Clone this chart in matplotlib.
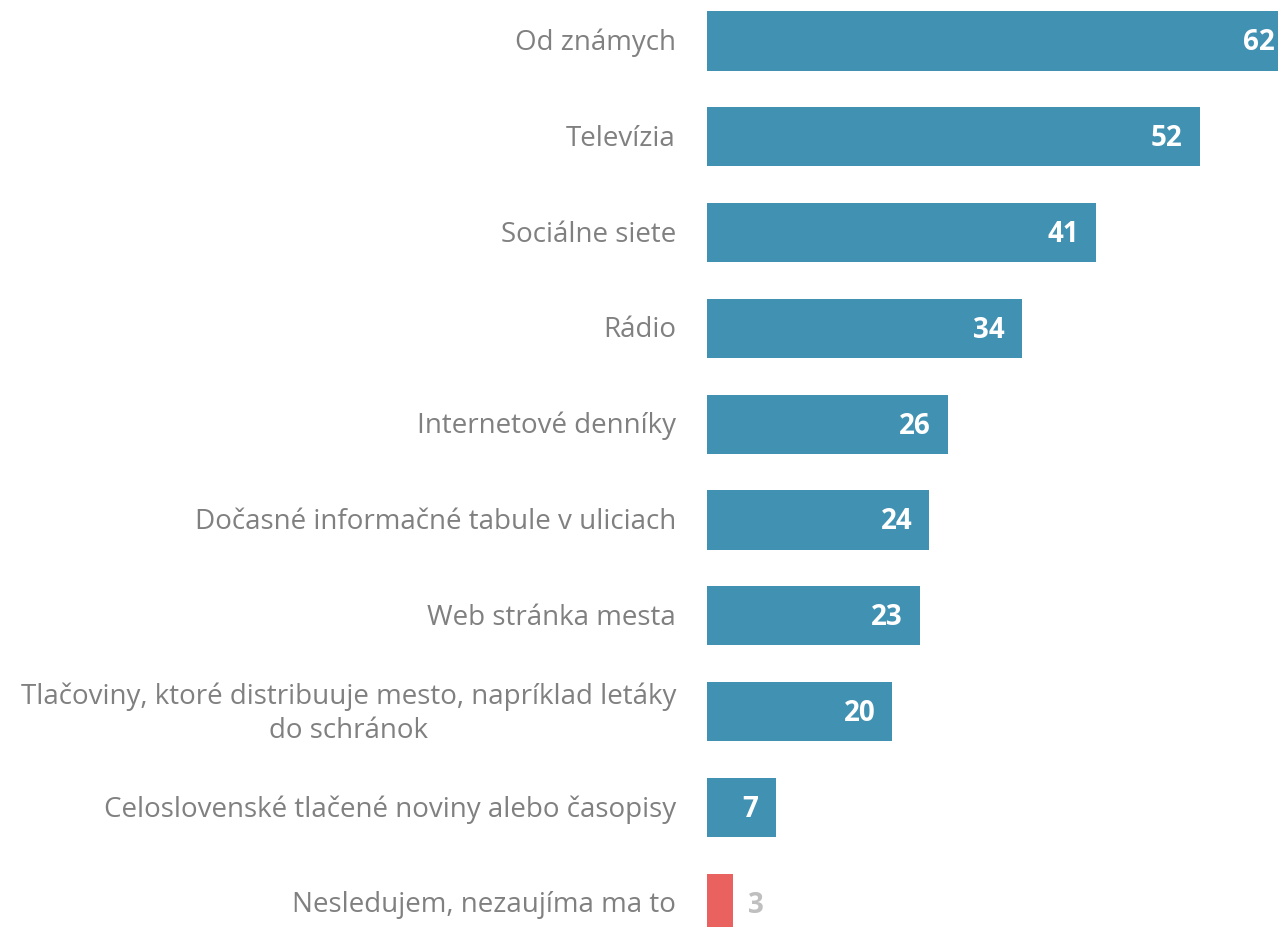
import numpy as np
import matplotlib
matplotlib.use("Agg")
import matplotlib.pyplot as plt

# Data (bar lengths as drawn, labels as printed)
categories = [
    "Od známych",
    "Televízia",
    "Sociálne siete",
    "Rádio",
    "Internetové denníky",
    "Dočasné informačné tabule v uliciach",
    "Web stránka mesta",
    "Tlačoviny, ktoré distribuuje mesto, napríklad letáky\ndo schránok",
    "Celoslovenské tlačené noviny alebo časopisy",
    "Nesledujem, nezaujíma ma to",
]
bar_values = [63.2, 53.2, 42.0, 34.0, 26.0, 24.0, 23.0, 20.0, 7.4, 2.8]
value_labels = ["62", "52", "41", "34", "26", "24", "23", "20", "7", "3"]

blue = "#4191b3"
red = "#e9625f"
label_gray = "#808080"
light_gray = "#bfbfbf"

plt.rcParams['font.family'] = ['Open Sans', 'DejaVu Sans']

fig = plt.figure(figsize=(12.78, 9.28), dpi=100)
ax = fig.add_axes([707 / 1278, 0.0, 1 - 707 / 1278, 1.0])

y = np.arange(len(categories))
colors = [blue] * (len(categories) - 1) + [red]
ax.barh(y, bar_values, height=0.62, color=colors)

ax.set_xlim(0, 571 / 9.26)
ax.set_ylim((928 - 42) / 95.8, -42 / 95.8)

# category labels to the left of the bars
for i, cat in enumerate(categories):
    ax.annotate(cat, xy=(0, i), xycoords=('axes fraction', 'data'),
                xytext=(-31, -1), textcoords='offset pixels',
                ha='right', va='center', multialignment='center',
                linespacing=1.3, fontsize=20, color=label_gray,
                annotation_clip=False)

# value labels
for i, (v, lab) in enumerate(zip(bar_values, value_labels)):
    if i == len(bar_values) - 1:
        ax.annotate(lab, xy=(v, i), xytext=(15, -1), textcoords='offset pixels',
                    ha='left', va='center', fontsize=20, fontweight='bold',
                    color=light_gray, annotation_clip=False)
    else:
        ax.annotate(lab, xy=(v, i), xytext=(-17, -1), textcoords='offset pixels',
                    ha='right', va='center', fontsize=20, fontweight='bold',
                    color='white', annotation_clip=False)

ax.axis('off')

fig.savefig("out.png", dpi=100)
